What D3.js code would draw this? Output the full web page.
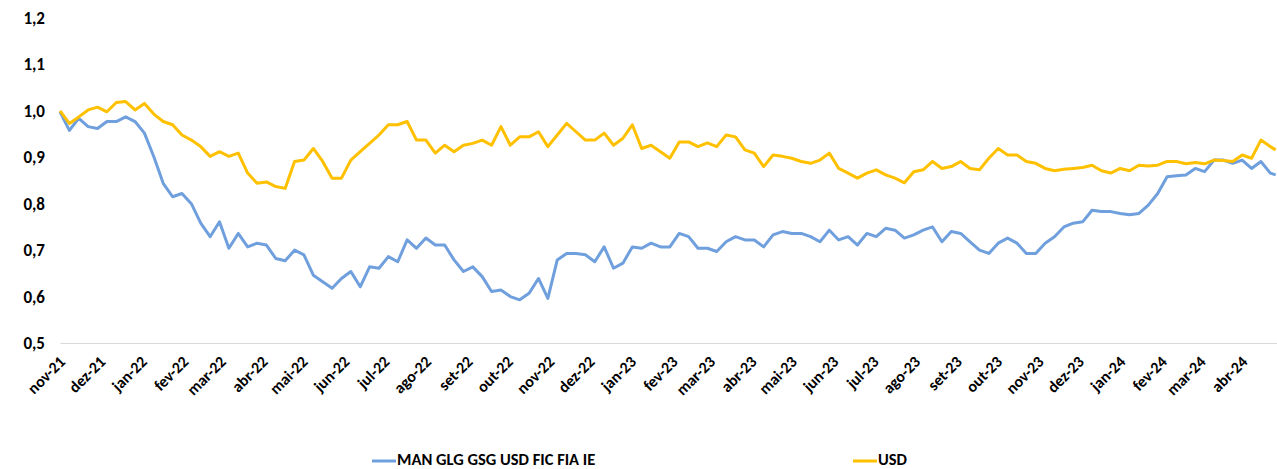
<!DOCTYPE html>
<html>
<head>
<meta charset="utf-8">
<script src="https://cdn.jsdelivr.net/npm/d3@7"></script>
<style>
  body { margin: 0; background: #fff; }
  #chart text { font-family: Carlito, Lato, 'Open Sans', sans-serif; font-weight: bold; fill: #000; }
</style>
</head>
<body>
<div id="chart"></div>
<script>
// Weekly samples (Mondays) from nov-21 up to the last quote in abr-24
const startDate = new Date(2021, 10, 1);
const endDate = new Date(2024, 3, 26);
const dates = d3.timeMonday.range(startDate, endDate).concat([endDate]);

const fundName = 'MAN GLG GSG USD FIC FIA IE';
const fundValues = [
  0.998, 0.958, 0.984, 0.966, 0.962, 0.977, 0.977, 0.987, 0.977, 0.952,
  0.901, 0.844, 0.815, 0.822, 0.800, 0.758, 0.729, 0.761, 0.704, 0.736,
  0.707, 0.715, 0.711, 0.682, 0.677, 0.700, 0.690, 0.646, 0.632, 0.618,
  0.639, 0.654, 0.621, 0.664, 0.661, 0.686, 0.675, 0.722, 0.704, 0.726,
  0.711, 0.711, 0.679, 0.654, 0.664, 0.643, 0.611, 0.614, 0.600, 0.593,
  0.607, 0.639, 0.596, 0.679, 0.693, 0.693, 0.690, 0.675, 0.707, 0.661,
  0.672, 0.707, 0.704, 0.715, 0.707, 0.707, 0.736, 0.729, 0.704, 0.704,
  0.697, 0.718, 0.729, 0.722, 0.722, 0.707, 0.733, 0.740, 0.736, 0.736,
  0.729, 0.718, 0.743, 0.722, 0.729, 0.711, 0.736, 0.729, 0.747, 0.743,
  0.726, 0.733, 0.743, 0.750, 0.718, 0.740, 0.736, 0.718, 0.700, 0.693,
  0.715, 0.726, 0.715, 0.693, 0.693, 0.715, 0.729, 0.750, 0.758, 0.761,
  0.786, 0.783, 0.783, 0.779, 0.776, 0.779, 0.797, 0.822, 0.858, 0.860,
  0.862, 0.876, 0.869, 0.894, 0.894, 0.887, 0.894, 0.876, 0.891, 0.866,
  0.862
];

const usdName = 'USD';
const usdValues = [
  1.000, 0.973, 0.987, 1.002, 1.008, 0.998, 1.018, 1.020, 1.002, 1.016,
  0.993, 0.977, 0.970, 0.948, 0.937, 0.923, 0.902, 0.912, 0.902, 0.909,
  0.866, 0.844, 0.847, 0.837, 0.833, 0.891, 0.894, 0.919, 0.891, 0.855,
  0.855, 0.894, 0.912, 0.930, 0.948, 0.970, 0.970, 0.977, 0.937, 0.937,
  0.909, 0.926, 0.912, 0.926, 0.930, 0.937, 0.926, 0.966, 0.926, 0.944,
  0.944, 0.955, 0.923, 0.948, 0.973, 0.955, 0.937, 0.937, 0.952, 0.926,
  0.941, 0.970, 0.919, 0.926, 0.912, 0.898, 0.933, 0.933, 0.923, 0.931,
  0.923, 0.948, 0.944, 0.916, 0.909, 0.880, 0.905, 0.902, 0.898, 0.891,
  0.887, 0.894, 0.909, 0.876, 0.866, 0.855, 0.866, 0.873, 0.862, 0.855,
  0.845, 0.869, 0.873, 0.891, 0.876, 0.880, 0.891, 0.876, 0.873, 0.898,
  0.919, 0.905, 0.905, 0.891, 0.887, 0.876, 0.871, 0.874, 0.876, 0.878,
  0.883, 0.871, 0.866, 0.876, 0.871, 0.883, 0.881, 0.883, 0.891, 0.891,
  0.886, 0.889, 0.886, 0.894, 0.893, 0.891, 0.905, 0.898, 0.937, 0.923,
  0.916
];

const yTicks = [0.5, 0.6, 0.7, 0.8, 0.9, 1.0, 1.1, 1.2];
const monthNames = ['jan', 'fev', 'mar', 'abr', 'mai', 'jun', 'jul', 'ago', 'set', 'out', 'nov', 'dez'];
const monthTicks = d3.timeMonth.range(startDate, new Date(2024, 4, 1));

const width = 1277;
const height = 469;
const margin = { top: 18, right: 0, bottom: 126, left: 60 };

const svg = d3.select('#chart').append('svg')
  .attr('width', width)
  .attr('height', height);

// Scales
const x = d3.scaleTime()
  .domain([startDate, new Date(2024, 3, 27)])
  .range([margin.left, width - margin.right]);
const y = d3.scaleLinear()
  .domain([0.5, 1.2])
  .range([height - margin.bottom, margin.top]);

// Y axis labels only (no line, no ticks)
const yAxis = svg.append('g')
  .attr('transform', `translate(${margin.left - 15}, 0)`)
  .call(d3.axisLeft(y).tickValues(yTicks).tickSize(0).tickPadding(0)
    .tickFormat(d => d3.format('.1f')(d).replace('.', ',')));
yAxis.select('.domain').remove();
yAxis.selectAll('text').style('font-size', '17px');

// X axis: light baseline and rotated month labels
const xAxis = svg.append('g')
  .attr('transform', `translate(0, ${y(0.5)})`)
  .call(d3.axisBottom(x).tickValues(monthTicks).tickSize(0)
    .tickFormat(d => monthNames[d.getMonth()] + '-' + String(d.getFullYear()).slice(2)));
xAxis.select('.domain')
  .attr('stroke', '#d9d9d9')
  .attr('stroke-width', 1.2);
xAxis.selectAll('text')
  .style('font-size', '16px')
  .attr('text-anchor', 'end')
  .attr('dy', null)
  .attr('y', 0)
  .attr('dominant-baseline', 'middle')
  .attr('transform', 'translate(3, 17) rotate(-45)');

// Lines
const line = d3.line()
  .x((d, i) => x(dates[i]))
  .y(d => y(d));

svg.append('path')
  .datum(fundValues)
  .attr('fill', 'none')
  .attr('stroke', '#6f9fdd')
  .attr('stroke-width', 3)
  .attr('stroke-linejoin', 'round')
  .attr('d', line);

svg.append('path')
  .datum(usdValues)
  .attr('fill', 'none')
  .attr('stroke', '#ffc000')
  .attr('stroke-width', 3)
  .attr('stroke-linejoin', 'round')
  .attr('d', line);

// Legend
const legendItems = [
  { name: fundName, color: '#6f9fdd', x: 372 },
  { name: usdName, color: '#ffc000', x: 853 }
];
const legend = svg.append('g')
  .attr('transform', 'translate(0, 461)');
legend.selectAll('line')
  .data(legendItems)
  .join('line')
  .attr('x1', d => d.x)
  .attr('x2', d => d.x + 24)
  .attr('stroke', d => d.color)
  .attr('stroke-width', 3);
legend.selectAll('text')
  .data(legendItems)
  .join('text')
  .attr('x', d => d.x + 25)
  .attr('dominant-baseline', 'middle')
  .style('font-size', '16.5px')
  .text(d => d.name);
</script>
</body>
</html>
